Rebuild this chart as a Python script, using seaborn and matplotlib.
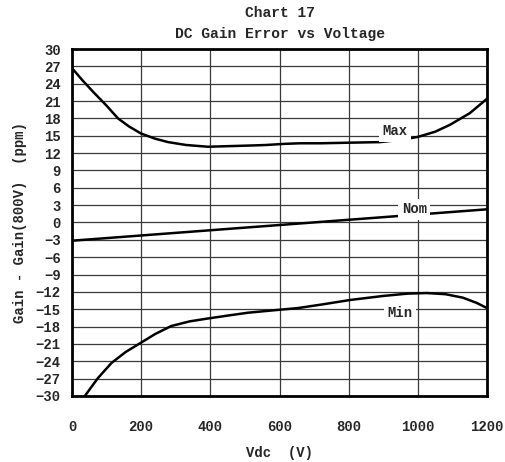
import numpy as np
import pandas as pd
import matplotlib
matplotlib.use("Agg")
import matplotlib.pyplot as plt
import seaborn as sns

sns.set_style("white")
plt.rcParams["font.family"] = ["Liberation Mono", "DejaVu Sans Mono"]
plt.rcParams["font.weight"] = "bold"

# curve values (Vdc in V, error in ppm)
max_v = [0, 30, 61, 100, 133, 165, 199, 240, 278, 330, 393, 450, 509, 560, 615, 659, 720, 800, 890, 950, 1000, 1050, 1093, 1150, 1200]
max_ppm = [26.7, 24.6, 22.6, 20.2, 18.0, 16.6, 15.4, 14.5, 13.9, 13.4, 13.1, 13.2, 13.3, 13.4, 13.6, 13.7, 13.7, 13.8, 13.9, 14.3, 14.8, 15.7, 16.9, 18.9, 21.4]

nom_v = [0, 1200]
nom_ppm = [-3.15, 2.28]

min_v = [37, 75, 114, 155, 199, 240, 287, 340, 393, 450, 509, 580, 653, 720, 804, 900, 970, 1026, 1080, 1130, 1170, 1200]
min_ppm = [-30.0, -26.9, -24.3, -22.4, -20.8, -19.3, -17.9, -17.1, -16.6, -16.1, -15.6, -15.2, -14.8, -14.2, -13.4, -12.7, -12.3, -12.2, -12.4, -13.0, -13.9, -14.8]

labels = [("Max", 934, 15.8), ("Nom", 990, 2.3), ("Min", 948, -15.7)]

fig = plt.figure(figsize=(5.05, 4.62), dpi=100)
ax = fig.add_axes([0.1426, 0.1429, 0.8218, 0.751])

for xs, ys in [(max_v, max_ppm), (nom_v, nom_ppm), (min_v, min_ppm)]:
    sns.lineplot(x=xs, y=ys, ax=ax, color="black", linewidth=1.8, zorder=3)

for txt, x, y in labels:
    ax.text(x, y, txt, ha="center", va="center", fontsize=10, fontweight="bold",
            bbox=dict(facecolor="white", edgecolor="none", pad=2.5), zorder=4)

ax.set_xlim(0, 1200)
ax.set_ylim(-30, 30)
ax.set_xticks(np.arange(0, 1201, 200))
ax.set_yticks(np.arange(-30, 31, 3))
ax.grid(True, color="#3a3a3a", linewidth=0.9)
ax.set_axisbelow(True)
for s in ax.spines.values():
    s.set_color("black")
    s.set_linewidth(2)
ax.tick_params(axis="both", which="both", direction="out", length=5, width=1,
               color="#999999", labelsize=10)
ax.tick_params(axis="x", pad=12)
ax.tick_params(axis="y", pad=3)
for lab in ax.get_xticklabels() + ax.get_yticklabels():
    lab.set_fontweight("bold")

ax.set_xlabel("Vdc  (V)", fontsize=10, fontweight="bold", labelpad=9)
ax.set_ylabel("Gain - Gain(800V)  (ppm)", fontsize=10, fontweight="bold", labelpad=6)
ax.set_title("Chart 17\nDC Gain Error vs Voltage", fontsize=10.5, fontweight="bold",
             linespacing=1.6, pad=8)

fig.savefig("out.png", dpi=100)
